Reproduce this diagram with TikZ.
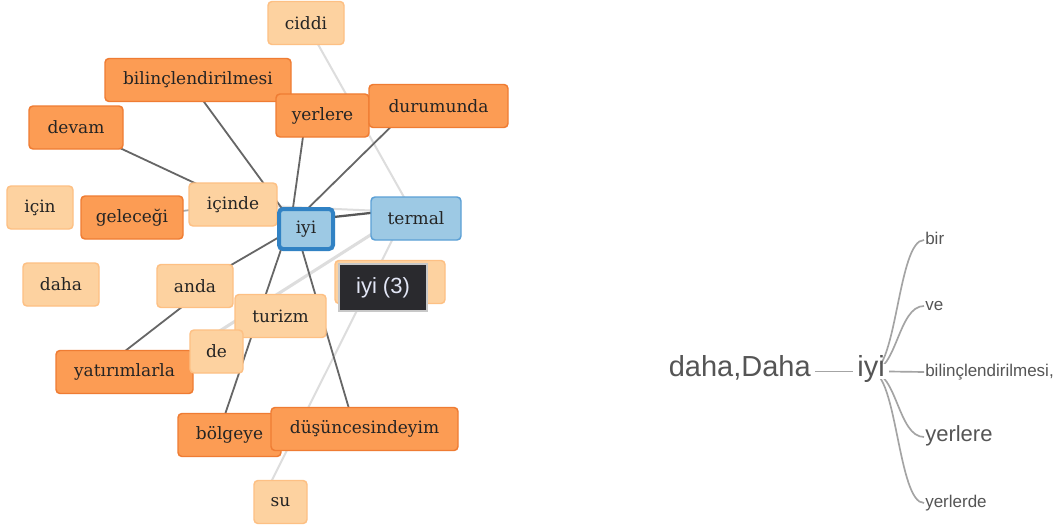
\documentclass[tikz,border=0pt]{standalone}
\usepackage{fontspec}
\usetikzlibrary{calc,backgrounds}
\newfontfamily\nodefont{DejaVu Serif}
\newfontfamily\treefont{Liberation Sans}
\definecolor{dkfill}{HTML}{FC9C54}
\definecolor{dkline}{HTML}{EF7C33}
\definecolor{ltfill}{HTML}{FDD2A0}
\definecolor{ltline}{HTML}{FDC084}
\definecolor{blfill}{HTML}{9DC9E4}
\definecolor{blline}{HTML}{5BA0D6}
\definecolor{selline}{HTML}{3182C4}
\definecolor{txt}{HTML}{242424}
\definecolor{treetxt}{HTML}{555555}
\definecolor{treeline}{HTML}{A4A4A4}
\definecolor{edgedark}{HTML}{666666}
\definecolor{edgelight}{HTML}{DDDDDD}
\definecolor{edgemid}{HTML}{A8A8A8}
\definecolor{tipfill}{HTML}{2A2A2E}
\definecolor{tipline}{HTML}{C8C8C8}
\definecolor{tiptxt}{HTML}{E2E6F6}
\begin{document}
\begin{tikzpicture}[x=0.75pt,y=-0.75pt,
  box/.style={rounded corners=3pt, line width=1.1pt, minimum height=43*0.75pt, inner sep=0pt,
    font=\nodefont\fontsize{12.75}{15}\selectfont, text=txt},
  sz/.style={minimum width=#1*0.75pt},
  dk/.style={box, fill=dkfill, draw=dkline},
  lt/.style={box, fill=ltfill, draw=ltline},
  bl/.style={box, fill=blfill, draw=blline},
  sel/.style={box, fill=blfill, draw=selline, line width=3pt,
    minimum width=54*0.75pt, minimum height=40*0.75pt},
  ttip/.style={fill=tipfill, draw=tipline, line width=0.8pt, minimum width=88*0.75pt,
    minimum height=47*0.75pt, inner sep=0pt, text=tiptxt,
    font=\treefont\fontsize{16.5}{19}\selectfont},
  ed/.style={draw=edgedark, line width=1.35pt},
  el/.style={draw=edgelight, line width=1.5pt},
  em/.style={draw=edgemid, line width=1.3pt},
  treenode/.style={text=treetxt, inner ysep=2.25pt, inner xsep=0.75pt,
    text height=0.72em, text depth=0pt},
  leafsmall/.style={treenode, anchor=west, font=\treefont\fontsize{12.75}{15}\selectfont},
  leafbig/.style={treenode, anchor=west, font=\treefont\fontsize{16.5}{19}\selectfont},
  rootword/.style={treenode, inner xsep=3pt, font=\treefont\fontsize{21.75}{26}\selectfont},
  treelink/.style={draw=treeline, line width=1.25pt}
]
\useasboundingbox (0,0) rectangle (1060,528);

% ---------------- network nodes ----------------
\node[lt, sz=76] (ciddi) at (306,23) {ciddi};
\node[dk, sz=186] (bilinc) at (198,80) {bilinçlendirilmesi};
\node[dk, sz=93] (yerlere) at (322.5,115.5) {yerlere};
\node[dk, sz=139] (durum) at (438.5,106) {durumunda};
\node[dk, sz=94] (devam) at (76,127.5) {devam};
\node[lt, sz=66] (icin) at (40,207.5) {için};
\node[dk, sz=102] (gelecegi) at (132,217.5) {geleceği};
\node[lt, sz=88] (icinde) at (233,204.5) {içinde};
\node[bl, sz=90] (termal) at (416,218.5) {termal};
\node[sel] (iyi) at (306,229) {iyi};
\node[lt, sz=76] (daha) at (61,284.5) {daha};
\node[lt, sz=76] (anda) at (195,286) {anda};
\node[lt, sz=110] (gizli) at (390,282) {};
\node[lt, sz=91] (turizm) at (280.5,316) {turizm};
\node[dk, sz=137] (yat) at (124.5,372) {yatırımlarla};
\node[lt, sz=53] (de) at (216.5,351.5) {de};
\node[dk, sz=103] (bolgeye) at (229.5,435) {bölgeye};
\node[dk, sz=187] (dus) at (364.5,429) {düşüncesindeyim};
\node[lt, sz=53] (su) at (280.5,502) {su};
\node[ttip] (tooltip) at (383,287.5) {iyi (3)};

% ---------------- word tree nodes ----------------
\node[rootword, anchor=east] (dahaD) at (815,371.5) {daha,Daha};
\node[rootword, fill=white] (iyiT) at (871,371.5) {iyi};
\node[leafsmall] (bir) at (924,240) {bir};
\node[leafsmall] (ve) at (924,306) {ve};
\node[leafsmall] (bil) at (924,372) {bilinçlendirilmesi,};
\node[leafbig] (yerT) at (924,437) {yerlere};
\node[leafsmall] (yerde) at (924,503) {yerlerde};

\begin{pgfonlayer}{background}
\fill[white] (0,0) rectangle (1060,528);
% light edges
\draw[el] (ciddi.center) -- (termal.center);
\draw[el] (icinde.center) -- ($(termal.center)+(0,-6)$);
\draw[el, line width=2.3pt] ($(termal.center)+(0,-12.5)$) -- ($(de.center)+(0,-18.5)$);
\draw[el] ($(termal.center)+(-13,0)$) -- ($(su.center)+(-19.5,0)$);
\draw[em] (gelecegi.center) -- (icinde.center);
% dark edges
\draw[ed] ($(bilinc.center)+(-10,0)$) -- ($(iyi.center)+(-9,0)$);
\draw[ed] (devam.center) -- ($(iyi.center)+(-13,0)$);
\draw[ed] ($(yerlere.center)+(-16.5,0)$) -- ($(iyi.center)+(-16,0)$);
\draw[ed] ($(durum.center)+(-26.5,0)$) -- ($(iyi.center)+(-19,0)$);
\draw[ed, line width=1.7pt, draw=edgedark!85!black] ($(iyi.center)+(0,-9)$) -- ($(termal.center)+(0,-10.5)$);
\draw[ed] ($(iyi.center)+(-13,0)$) -- (anda.center);
\draw[ed] ($(anda.center)+(14,0)$) -- ($(yat.center)+(-26.5,0)$);
\draw[ed] ($(iyi.center)+(-18,0)$) -- ($(bolgeye.center)+(-11.5,0)$);
\draw[ed] ($(iyi.center)+(-10,0)$) -- ($(dus.center)+(-9.5,0)$);
% word tree links
\draw[treelink] (dahaD.east) -- (iyiT.west);
\draw[treelink] (iyiT.east) -- (bil.west);
\draw[treelink] (iyiT.center) .. controls ($(iyiT.center)+(26,0)$) and ($(bir.west)+(-26,0)$) .. (bir.west);
\draw[treelink] (iyiT.center) .. controls ($(iyiT.center)+(26,0)$) and ($(ve.west)+(-26,0)$) .. (ve.west);
\draw[treelink] (iyiT.center) .. controls ($(iyiT.center)+(26,0)$) and ($(yerT.west)+(-26,0)$) .. (yerT.west);
\draw[treelink] (iyiT.center) .. controls ($(iyiT.center)+(26,0)$) and ($(yerde.west)+(-26,0)$) .. (yerde.west);
\end{pgfonlayer}
\end{tikzpicture}
\end{document}
